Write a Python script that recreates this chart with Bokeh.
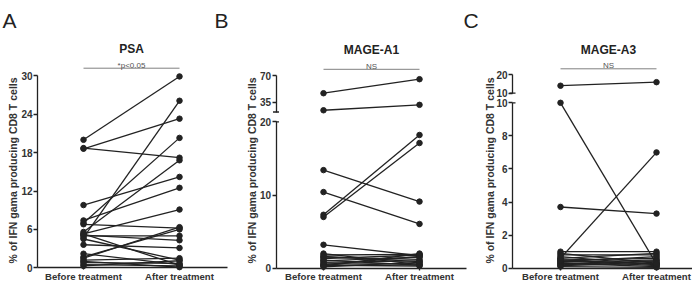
import math
from bokeh.plotting import figure
from bokeh.models import Range1d, LinearAxis, FixedTicker, ColumnDataSource
from bokeh.layouts import row
from bokeh.embed import file_html
from bokeh.resources import INLINE
from bokeh.core.properties import value

# ---------------- data ----------------
groups = ["Before treatment", "After treatment"]
y_title = "% of IFN gama producing CD8 T cells"
panel_letters = ["A", "B", "C"]

psa_title = "PSA"
psa_sig = "*p<0.05"
psa_before = [20.0, 18.6, 18.7, 4.7, 7.0, 5.6, 9.8, 7.4, 5.3, 6.8, 1.7, 1.5,
              5.0, 5.1, 3.6, 5.3, 4.5, 1.2, 0.8, 0.5, 1.0, 0.3, 2.2]
psa_after = [29.9, 23.3, 17.2, 26.1, 20.3, 16.8, 14.2, 12.5, 9.1, 6.2, 6.0, 6.35,
             5.0, 4.3, 3.1, 0.4, 1.2, 1.5, 0.7, 0.3, 0.1, 1.1, 0.5]
psa_ticks = [0, 6, 12, 18, 24, 30]

a1_title = "MAGE-A1"
a1_sig = "NS"
a1_before = [46.9, 24.3, 13.4, 10.4, 7.3, 7.0, 3.2, 2.0, 1.8, 1.6, 1.5, 1.3,
             1.1, 1.0, 0.8, 0.6, 0.5, 0.4, 0.3, 0.2]
a1_after = [65.5, 31.5, 9.1, 6.05, 18.2, 17.1, 1.7, 0.5, 1.9, 0.9, 1.2, 1.8,
            0.4, 1.5, 1.0, 0.6, 1.6, 0.3, 2.0, 0.8]
a1_low_ticks = [0, 10, 20]
a1_high_ticks = [35, 70]
a1_low_max = 20          # values above this sit on the upper axis segment
a1_high_min = 22

a3_title = "MAGE-A3"
a3_sig = "NS"
a3_before = [14.0, 10.0, 3.7, 0.6, 1.0, 0.9, 0.8, 0.7, 0.6, 0.5, 0.45, 0.4,
             0.35, 0.3, 0.25, 0.2, 0.15, 0.1, 0.5]
a3_after = [15.9, 0.25, 3.3, 7.0, 1.0, 0.3, 0.8, 0.2, 0.9, 0.6, 0.15, 0.7,
            0.5, 0.1, 0.4, 0.45, 0.3, 0.05, 0.25]
a3_low_ticks = [0, 2, 4, 6, 8, 10]
a3_high_ticks = [10, 20]
a3_low_max = 10
a3_high_min = 10

# ---------------- style / layout ----------------
FONT = "Liberation Sans"
INK = "#222222"
TXT = "#333333"
GREY = "#808080"
TOP, BOTTOM = 0, 282


def lin_range(v0, p0, v1, p1, top=TOP, bottom=BOTTOM):
    k = (v1 - v0) / (p1 - p0)
    return Range1d(start=v0 + (bottom - p0) * k, end=v0 + (top - p0) * k)


def style_axis(ax):
    ax.axis_line_color = INK
    ax.axis_line_width = 1.3
    ax.major_tick_line_color = INK
    ax.major_tick_line_width = 1.3
    ax.major_tick_in = 0
    ax.major_tick_out = 4
    ax.minor_tick_line_color = None
    ax.major_label_text_font = FONT
    ax.major_label_text_font_style = "bold"
    ax.major_label_text_font_size = "10px"
    ax.major_label_text_color = TXT
    ax.major_label_standoff = 1


def make_panel(cfg, title, sig, before, after, low_ticks, low_bounds,
               high_ticks=None, low_max=None, high_bounds=None, letters=()):
    left, right, xb, xa = cfg["left"], cfg["right"], cfg["xb"], cfg["xa"]
    to_x = lambda px: (px - xb) / (xa - xb)
    p = figure(width=right - left, height=BOTTOM - TOP, title=None,
               x_range=Range1d(to_x(left), to_x(right)),
               y_range=lin_range(*cfg["low_cal"]),
               x_axis_type=None, y_axis_type=None,
               output_backend="svg", toolbar_location=None,
               min_border=0, outline_line_color=None)
    p.extra_x_ranges = {"px": Range1d(left, right)}
    p.extra_y_ranges = {"py": Range1d(BOTTOM, TOP)}
    if high_ticks is not None:
        p.extra_y_ranges["top"] = lin_range(*cfg["high_cal"])

    axx = to_x(cfg["axis_x"])
    # x axis
    xa_ax = LinearAxis(fixed_location=0, bounds=(axx, to_x(cfg["x_end"])),
                       ticker=FixedTicker(ticks=[0, 1]),
                       major_label_overrides={0: groups[0], 1: groups[1]})
    style_axis(xa_ax)
    xa_ax.major_tick_out = 2
    xa_ax.major_label_standoff = 1
    xa_ax.major_label_text_font_size = "9.6px"
    p.add_layout(xa_ax, "below")
    # y axis (lower segment)
    ya = LinearAxis(fixed_location=axx, bounds=low_bounds,
                    ticker=FixedTicker(ticks=low_ticks))
    style_axis(ya)
    p.add_layout(ya, "left")

    pairs_low = [(b, a) for b, a in zip(before, after)
                 if low_max is None or max(b, a) <= low_max]
    pairs_high = [(b, a) for b, a in zip(before, after)
                  if low_max is not None and max(b, a) > low_max]

    segs = [("default", pairs_low)]
    if high_ticks is not None:
        yb = LinearAxis(fixed_location=axx, bounds=high_bounds, y_range_name="top",
                        ticker=FixedTicker(ticks=high_ticks))
        style_axis(yb)
        p.add_layout(yb, "left")
        segs.append(("top", pairs_high))
        # little caps marking the axis break
        ax_px = cfg["axis_x"]
        p.segment(x0=[ax_px - 3], x1=[ax_px + 3], y0=[high_bounds[0]], y1=[high_bounds[0]],
                  x_range_name="px", y_range_name="top", line_color=INK, line_width=1.3)
        p.segment(x0=[ax_px], x1=[ax_px + 3], y0=[low_bounds[1]], y1=[low_bounds[1]],
                  x_range_name="px", line_color=INK, line_width=1.3)

    for rname, pairs in segs:
        b = [v[0] for v in pairs]
        a = [v[1] for v in pairs]
        n = len(pairs)
        src = ColumnDataSource(dict(x0=[0] * n, x1=[1] * n, y0=b, y1=a))
        p.segment("x0", "y0", "x1", "y1", source=src, line_color=INK,
                  line_width=1.3, y_range_name=rname)
        p.scatter(x=[0] * n, y=b, size=5.5, fill_color=INK, line_color=INK,
                  y_range_name=rname)
        p.scatter(x=[1] * n, y=a, size=5.5, fill_color=INK, line_color=INK,
                  y_range_name=rname)

    # title, significance bar and text
    p.text(x=[0.5], y=[cfg["title_y"]], text=[title], y_range_name="py",
           text_align="center", text_baseline="alphabetic",
           text_font=value(FONT), text_font_style="bold", text_font_size="12px",
           text_color=INK)
    p.segment(x0=[0], x1=[1], y0=[cfg["bar_y"]], y1=[cfg["bar_y"]],
              y_range_name="py", line_color=GREY, line_width=1)
    p.text(x=[0.5], y=[cfg["bar_y"] - 3], text=[sig], y_range_name="py",
           text_align="center", text_baseline="alphabetic",
           text_font=value(FONT), text_font_size="8px", text_color="#555555")
    # y-axis title
    p.text(x=[cfg["label_x"]], y=[170], text=[y_title], angle=math.pi / 2,
           x_range_name="px", y_range_name="py", text_align="center",
           text_baseline="middle", text_font=value(FONT), text_font_style="bold",
           text_font_size="10.5px", text_color=TXT)
    # panel letters that fall inside this figure's area
    if letters:
        p.text(x=[l[1] for l in letters], y=[20] * len(letters),
               text=[l[0] for l in letters], x_range_name="px", y_range_name="py",
               text_align="left", text_baseline="alphabetic",
               text_font=value(FONT), text_font_size="21px", text_color=INK)
    return p


cfg_a = dict(left=0, right=234, xb=83, xa=179, axis_x=37, x_end=227, label_x=12.5,
             title_y=48.5, bar_y=67.7, low_cal=(0, 267.3, 30, 75.3))
cfg_b = dict(left=234, right=478, xb=323, xa=419, axis_x=275.5, x_end=466, label_x=251,
             title_y=49.5, bar_y=68.8, low_cal=(0, 267.7, 20, 121.3),
             high_cal=(35, 101.7, 70, 75.3))
cfg_c = dict(left=478, right=692, xb=560, xa=656, axis_x=512, x_end=692, label_x=489,
             title_y=49.5, bar_y=68.3, low_cal=(0, 267.7, 10, 102.3),
             high_cal=(10, 92.7, 20, 74))

pa = make_panel(cfg_a, psa_title, psa_sig, psa_before, psa_after, psa_ticks, (0, 30),
                letters=[(panel_letters[0], 2), (panel_letters[1], 214)])
pb = make_panel(cfg_b, a1_title, a1_sig, a1_before, a1_after, a1_low_ticks, (0, 20),
                a1_high_ticks, a1_low_max, (a1_high_min, 70),
                letters=[(panel_letters[2], 463)])
pc = make_panel(cfg_c, a3_title, a3_sig, a3_before, a3_after, a3_low_ticks, (0, 10),
                a3_high_ticks, a3_low_max, (a3_high_min, 20))

layout = row(pa, pb, pc, spacing=0)
open("out.html", "w").write(file_html(layout, INLINE))
